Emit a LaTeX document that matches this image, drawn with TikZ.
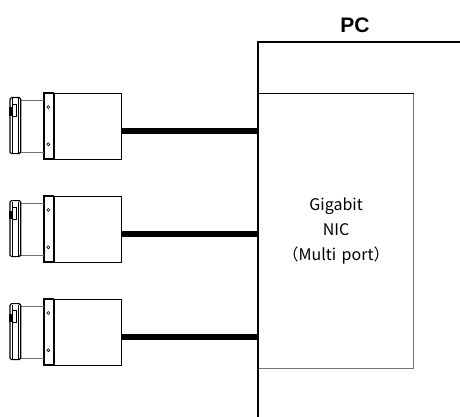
\documentclass[tikz,border=0pt]{standalone}
\usepackage{fontspec}
\newfontfamily\jpfont{Noto Sans CJK JP}
\newfontfamily\pcfont{Liberation Sans}
\begin{document}
\begin{tikzpicture}[x=1pt,y=-1pt,
  outline/.style={draw=black,line width=1.2pt},
  thinline/.style={draw=black!55,line width=1pt},
  camerabody/.style={outline,rectangle,anchor=north west,minimum width=67.4pt,minimum height=66pt,inner sep=0pt},
  cable/.style={line width=6pt,black},
  nicbox/.style={draw=black!55,line width=1.2pt,rectangle,anchor=north west,minimum width=155pt,minimum height=275pt,inner sep=0pt,font=\jpfont\fontsize{16}{25}\selectfont,align=center},
  pclabel/.style={font=\pcfont\bfseries\fontsize{21}{24}\selectfont}]
\useasboundingbox (0,0) rectangle (460,417);
% PC
\node[nicbox] (nic) at (258,93) {Gigabit\\NIC\\（Multi\,\,port）};
\draw[outline] (258,417) -- (258,42) -- (460,42);
\draw[line width=0.8pt,black] (nic.north west) -- (nic.north east);
\node[pclabel] (pc) at (355,25) {PC};
% cameras
\foreach \t [count=\i] in {93,196,299}{
  \node[camerabody] (cam\i) at (53.3,\t) {};
  % front plate
  \draw[outline] (44,\t) rectangle (53.3,\t+66);
  \draw[black,line width=0.6pt] (48.3,\t+14) circle (1.5);
  \draw[black,line width=0.6pt] (48.3,\t+51.3) circle (1.5);
  % tube
  \draw[thinline] (20.7,\t+7.3) -- (44,\t+7.3);
  \draw[thinline] (20.7,\t+59) -- (44,\t+59);
  % lens ring
  \draw[outline,rounded corners=1.5pt] (10,\t+4.6) rectangle (20.7,\t+60.6);
  \draw[black,line width=0.8pt] (12.4,\t+5.5) -- (12.4,\t+59.7);
  \draw[black,line width=0.8pt] (18.6,\t+5.5) -- (18.6,\t+59.7);
  % connector
  \draw[black,line width=0.8pt,fill=white] (12.4,\t+11.3) rectangle (16.7,\t+23.3);
  \fill[black] (8.5,\t+14.5) rectangle (13,\t+23);
  % cable
  \draw[cable] ([yshift=-4pt]cam\i.east) coordinate (p\i) -- (p\i -| nic.west);
}
\end{tikzpicture}
\end{document}
